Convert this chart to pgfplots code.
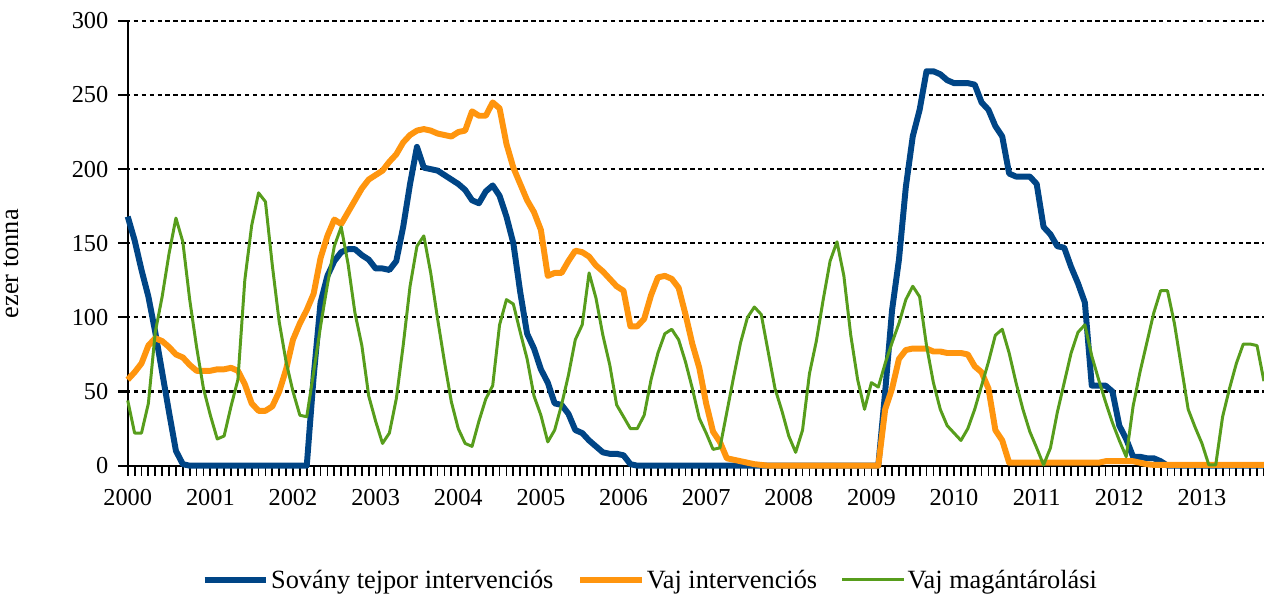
\documentclass[border=0pt]{standalone}
\usepackage{fontspec}
\setmainfont{Liberation Serif}
\usepackage{pgfplots}
\pgfplotsset{compat=1.18}
\usepackage{pgfplotstable}
\definecolor{cblue}{RGB}{0,69,134}
\definecolor{corange}{RGB}{255,149,14}
\definecolor{cgreen}{RGB}{87,157,28}
\pgfplotstableread{
i b o g
0 168 58 44
1 152 63 22
2 132 69 22
3 114 81 42
4 90 86 90
5 63 84 114
6 36 80 143
7 10 75 167
8 1 73 151
9 0 68 112
10 0 64 80
11 0 64 52
12 0 64 34
13 0 65 18
14 0 65 20
15 0 66 40
16 0 64 58
17 0 55 125
18 0 42 162
19 0 37 184
20 0 37 178
21 0 40 135
22 0 50 97
23 0 65 70
24 0 85 50
25 0 96 34
26 0 105 33
27 60 116 63
28 110 140 94
29 128 155 122
30 138 166 148
31 144 163 161
32 146 171 136
33 146 179 103
34 142 187 81
35 139 193 47
36 133 196 30
37 133 199 15
38 132 205 22
39 138 210 45
40 161 218 81
41 190 223 121
42 215 226 148
43 201 227 155
44 200 226 130
45 199 224 99
46 196 223 70
47 193 222 43
48 190 225 25
49 186 226 15
50 179 239 13
51 177 236 30
52 185 236 45
53 189 245 54
54 182 241 95
55 168 217 112
56 150 201 109
57 117 190 90
58 89 179 72
59 79 171 47
60 65 159 34
61 56 128 16
62 42 130 24
63 41 130 41
64 35 138 61
65 24 145 85
66 22 144 95
67 17 141 130
68 13 135 113
69 9 131 88
70 8 126 68
71 8 121 41
72 7 118 33
73 1 94 25
74 0 94 25
75 0 99 34
76 0 115 58
77 0 127 76
78 0 128 89
79 0 126 92
80 0 120 85
81 0 102 70
82 0 82 52
83 0 66 32
84 0 42 22
85 0 23 11
86 0 16 12
87 0 5 36
88 0 4 60
89 0 3 83
90 0 2 100
91 0 1 107
92 0 0.5 102
93 0 0 77
94 0 0 52
95 0 0 37
96 0 0 20
97 0 0 9
98 0 0 24
99 0 0 62
100 0 0 84
101 0 0 112
102 0 0 138
103 0 0 151
104 0 0 128
105 0 0 88
106 0 0 58
107 0 0 38
108 0 0 56
109 0 0 53
110 50 38 69
111 105 52 83
112 139 72 96
113 188 78 112
114 222 79 121
115 240 79 114
116 266 79 81
117 266 77 56
118 264 77 38
119 260 76 27
120 258 76 22
121 258 76 17
122 258 75 25
123 257 67 38
124 245 63 54
125 240 52 70
126 229 24 88
127 222 17 92
128 197 2 76
129 195 2 56
130 195 2 38
131 195 2 23
132 190 2 12
133 161 2 0.5
134 156 2 12
135 148 2 36
136 147 2 56
137 134 2 76
138 123 2 90
139 110 2 95
140 54 2 74
141 54 2 58
142 54 3 43
143 50 3 29
144 27 3 17
145 18 3 6
146 6 3 40
147 6 2 63
148 5 1 83
149 5 0.5 103
150 3 0.5 118
151 0 0.5 118
152 0 0.5 96
153 0 0.5 67
154 0 0.5 38
155 0 0.5 26
156 0 0.5 15
157 0 0.5 0.5
158 0 0.5 0.5
159 0 0.5 33
160 0 0.5 52
161 0 0.5 69
162 0 0.5 82
163 0 0.5 82
164 0 0.5 81
165 0 0.5 57
}\data
\begin{document}
\begin{tikzpicture}
\path (-120.7pt,-131.3pt) rectangle (1144.3pt,468.7pt);
\begin{axis}[
  at={(-10pt,-10pt)}, anchor=south west,
  scale only axis, width=1153.6pt, height=457.7pt,
  xmin=-1.443, xmax=165, ymin=-6.7, ymax=300,
  axis x line*=bottom, axis y line*=left,
  axis line style={draw=none},
  xtick={0,12,...,156},
  xticklabels={2000,2001,2002,2003,2004,2005,2006,2007,2008,2009,2010,2011,2012,2013},
  ytick={0,50,...,300},
  major tick length=0pt,
  tick style={draw=none},
  ymajorgrids,
  grid style={black, line width=2.2pt, dash pattern=on 4.5pt off 3.5pt},
  /pgf/number format/assume math mode=true,
  tick label style={font=\fontsize{24.5}{28}\selectfont},
  xticklabel style={anchor=north, yshift=-10pt},
  yticklabel style={anchor=east, xshift=-6pt},
  ylabel={ezer tonna},
  every axis y label/.style={at={(axis description cs:-0.0933,0.466)}, rotate=90, anchor=center, font=\fontsize{26.5}{30}\selectfont},
  legend columns=3,
  legend style={at={(axis description cs:0.4646,-0.2295)}, anchor=center, draw=none,
    font=\fontsize{26.5}{30}\selectfont,
    /tikz/every even column/.append style={column sep=22pt}},
  legend image code/.code={\draw[#1] (0pt,0pt) -- (62pt,0pt);},
]
% axis lines and tick marks, drawn inside the axis area
\addplot[black, line width=1.8pt, no marks, forget plot,
  quiver={u=0, v=-6.7, every arrow/.append style={-}}] table[x=i, y expr=0] {\data};
\addplot[black, line width=2.2pt, no marks, forget plot,
  quiver={u=-1.443, v=0, every arrow/.append style={-}}] coordinates {(0,0) (0,50) (0,100) (0,150) (0,200) (0,250) (0,300)};
\addplot[black, line width=2.2pt, no marks, forget plot] coordinates {(0,0) (165,0)};
\addplot[black, line width=2.2pt, no marks, forget plot] coordinates {(0,-6.7) (0,300)};
\addplot[cblue, line width=6pt, line join=round, no marks] table[x=i, y=b] {\data};
\addlegendentry{Sovány tejpor intervenciós}
\addplot[corange, line width=6pt, line join=round, no marks] table[x=i, y=o] {\data};
\addlegendentry{Vaj intervenciós}
\addplot[cgreen, line width=3pt, line join=round, no marks] table[x=i, y=g] {\data};
\addlegendentry{Vaj magántárolási}
\end{axis}
\end{tikzpicture}
\end{document}
